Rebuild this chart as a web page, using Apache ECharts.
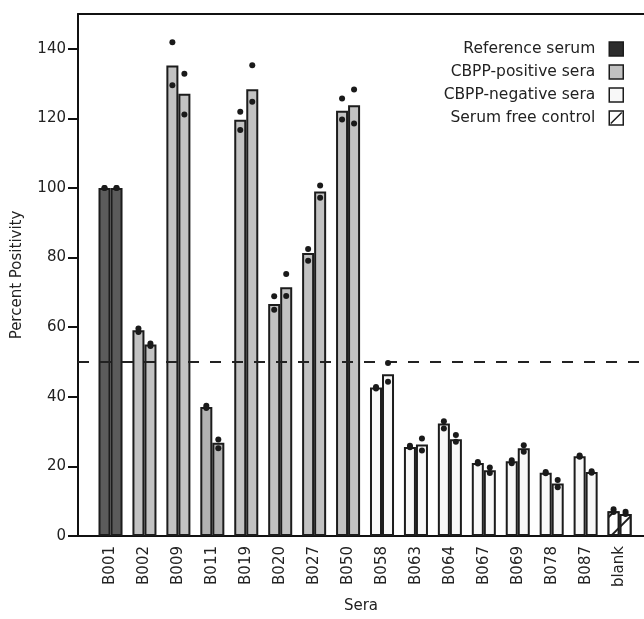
<!DOCTYPE html>
<html>
<head>
<meta charset="utf-8">
<script src="https://cdn.jsdelivr.net/npm/echarts@6/dist/echarts.min.js"></script>
<style>
html,body{margin:0;padding:0;background:#fff;}
#chart{width:644px;height:619px;}
</style>
</head>
<body>
<div id="chart"></div>
<script>
// ---- data ----
var categories = ['B001','B002','B009','B011','B019','B020','B027','B050','B058','B063','B064','B067','B069','B078','B087','blank'];
var groups = ['Reference serum','CBPP-positive sera','CBPP-positive sera','CBPP-positive sera','CBPP-positive sera','CBPP-positive sera','CBPP-positive sera','CBPP-positive sera','CBPP-negative sera','CBPP-negative sera','CBPP-negative sera','CBPP-negative sera','CBPP-negative sera','CBPP-negative sera','CBPP-negative sera','Serum free control'];
var rep1Bars = [100, 59.1, 135.2, 37.1, 119.6, 66.7, 81.3, 122.2, 42.7, 25.6, 32.3, 21.0, 21.5, 18.2, 22.9, 7.1];
var rep2Bars = [100, 55.0, 127.1, 26.8, 128.4, 71.5, 99.0, 123.8, 46.5, 26.3, 27.8, 18.9, 25.2, 15.1, 18.4, 6.3];
var rep1DotsA = [100, 59.6, 141.9, 37.4, 121.9, 68.9, 82.5, 125.7, 42.8, 25.9, 33.0, 21.3, 21.8, 18.4, 23.1, 7.7];
var rep1DotsB = [100, 58.6, 129.5, 36.8, 116.7, 65.0, 79.1, 119.7, 42.4, 25.5, 30.9, 20.8, 20.9, 18.0, 22.8, 6.9];
var rep2DotsA = [100, 55.3, 132.8, 27.7, 135.3, 75.3, 100.7, 128.3, 49.7, 28.0, 29.0, 19.7, 26.1, 16.1, 18.6, 7.0];
var rep2DotsB = [100, 54.6, 121.1, 25.2, 124.8, 69.0, 97.2, 118.5, 44.3, 24.6, 27.1, 18.1, 24.2, 14.0, 18.2, 6.3];
var legendNames = ['Reference serum','CBPP-positive sera','CBPP-negative sera','Serum free control'];
var thresholdValue = 50;
var yTicks = [0, 20, 40, 60, 80, 100, 120, 140];

// ---- layout / style ----
var W = 644, gridLeft = 78, gridRight = 0, gridTop = 14, gridBottom = 83;
var xMin = -0.958, xMax = 15.72;
var pxPerUnit = (W - gridLeft - gridRight) / (xMax - xMin);
var half = 0.177;                       // half bar width in axis units
var barWidthPx = 2 * half * pxPerUnit;
var font = 'DejaVu Sans';
var edge = '#1c1c1c';
var groupStyle = {
  'Reference serum':   {color: '#5b5b5b'},
  'CBPP-positive sera':{color: '#c2c2c2'},
  'CBPP-negative sera':{color: '#f8f8f8'},
  'Serum free control':{color: '#ffffff', decal: {symbol: 'rect', symbolSize: 1, dashArrayX: [1, 0], dashArrayY: [2, 13], rotation: -Math.PI / 4, color: '#1c1c1c', backgroundColor: '#ffffff'}}
};

var series = [];
legendNames.forEach(function (g, gi) {
  var data = [];
  categories.forEach(function (c, i) {
    if (groups[i] !== g) return;
    var col = (c === 'B011') ? '#b2b2b2' : null;
    var p1 = {value: [i - half, rep1Bars[i]]};
    var p2 = {value: [i + half, rep2Bars[i]]};
    if (col) { p1.itemStyle = {color: col}; p2.itemStyle = {color: col}; }
    data.push(p1, p2);
  });
  var st = groupStyle[g];
  var s = {
    name: g, type: 'bar', barWidth: barWidthPx, barGap: '-100%',
    data: data, z: 2,
    itemStyle: {color: st.color, borderColor: edge, borderWidth: 2, decal: st.decal || null}
  };
  if (gi === 0) {
    s.markLine = {
      silent: true, symbol: 'none', label: {show: false},
      lineStyle: {color: '#222', type: [11, 11], width: 2},
      data: [{yAxis: thresholdValue}]
    };
  }
  series.push(s);
});

var dotData = [];
categories.forEach(function (c, i) {
  dotData.push([i - half, rep1DotsA[i]], [i - half, rep1DotsB[i]],
               [i + half, rep2DotsA[i]], [i + half, rep2DotsB[i]]);
});
series.push({
  name: 'points', type: 'scatter', data: dotData, symbolSize: 6, z: 5,
  itemStyle: {color: '#1a1a1a', opacity: 1}
});

var chart = echarts.init(document.getElementById('chart'), null, {renderer: 'canvas'});
chart.setOption({
  animation: false,
  backgroundColor: '#ffffff',
  textStyle: {fontFamily: font},
  grid: {left: gridLeft, right: gridRight, top: gridTop, bottom: gridBottom, containLabel: false, outerBoundsMode: 'none'},
  legend: {
    data: legendNames.map(function (n, k) {
      var it = {name: n};
      if (k === 0) it.itemStyle = {color: '#2c2c2c', borderColor: edge, borderWidth: 1.5};
      if (k === 3) {
        it.icon = 'path://M0 0H14V14H0ZM1.5 12.5L12.5 1.5';
        it.itemStyle = {color: '#ffffff', borderColor: edge, borderWidth: 1.5, decal: 'none'};
      }
      return it;
    }),
    orient: 'vertical', align: 'right', right: 15, top: 36,
    itemWidth: 14, itemHeight: 14, itemGap: 7, icon: 'rect',
    itemStyle: {borderColor: edge, borderWidth: 1.5},
    textStyle: {fontFamily: font, fontSize: 15.5, color: '#222', padding: [0, 9, 0, 0]},
    selectedMode: false
  },
  xAxis: [{
    type: 'value', min: xMin, max: xMax,
    name: 'Sera', nameLocation: 'middle', nameGap: 63,
    nameTextStyle: {fontFamily: font, fontSize: 15, color: '#222'},
    axisLine: {show: true, onZero: false, lineStyle: {color: '#111', width: 2}},
    axisTick: {show: false},
    splitLine: {show: false},
    axisLabel: {
      customValues: categories.map(function (c, i) { return i; }),
      rotate: 90, margin: 10, fontFamily: font, fontSize: 15, color: '#222',
      formatter: function (v) { var k = Math.round(v); return categories[k] || ''; }
    }
  }, {
    type: 'value', min: xMin, max: xMax, position: 'top',
    axisLine: {show: true, onZero: false, lineStyle: {color: '#111', width: 2}},
    axisTick: {show: false}, axisLabel: {show: false}, splitLine: {show: false}
  }],
  yAxis: {
    type: 'value', min: 0, max: 150, interval: 20,
    name: 'Percent Positivity', nameLocation: 'middle', nameGap: 53,
    nameTextStyle: {fontFamily: font, fontSize: 15, color: '#222'},
    axisLine: {show: true, onZero: false, lineStyle: {color: '#111', width: 2}},
    axisTick: {show: true, length: 10, lineStyle: {color: '#111', width: 2},
               customValues: yTicks},
    axisLabel: {customValues: yTicks, margin: 12, fontFamily: font, fontSize: 15, color: '#222'},
    splitLine: {show: false}
  },
  series: series
});
</script>
</body>
</html>
